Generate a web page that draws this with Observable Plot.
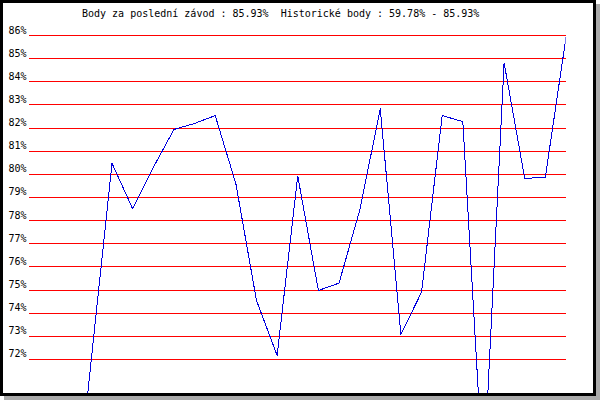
<!DOCTYPE html>
<html>
<head>
<meta charset="utf-8">
<script src="https://cdn.jsdelivr.net/npm/d3@7"></script>
<script src="https://cdn.jsdelivr.net/npm/@observablehq/plot@0.6"></script>
<style>
  html, body { margin: 0; padding: 0; background: #fff; }
  #wrap { position: relative; width: 600px; height: 400px; overflow: hidden; }
  #chart { position: absolute; left: 0; top: 0; }
  #frame { position: absolute; left: 0; top: 0; width: 596px; height: 396px; box-sizing: border-box;
           border: 3px solid #000; box-shadow: 4px 4px 0 0 #aaaaaa; pointer-events: none; }
  #title { position: absolute; left: 82px; top: 9px; font: 10px/10px "DejaVu Sans Mono", monospace;
           color: #000; white-space: pre; }
</style>
</head>
<body>
<div id="wrap">
  <div id="chart"></div>
  <div id="title"></div>
  <div id="frame"></div>
</div>
<script>
const titleText = "Body za poslední závod : 85.93%  Historické body : 59.78% - 85.93%";
const races = [1, 3, 4, 5, 6, 7, 8, 9, 10, 11, 12, 13, 14, 15, 16, 17, 18, 19, 20, 21, 22, 23, 24, 25];
const points = [63.6, 80.48, 78.51, 80.3, 81.94, 82.2, 82.54, 79.6, 74.55, 72.17, 79.93, 74.98, 75.30, 78.44, 82.83, 73.08, 74.91, 82.54, 82.28, 66.7, 84.82, 79.82, 79.88, 85.93];
const yTicks = [72, 73, 74, 75, 76, 77, 78, 79, 80, 81, 82, 83, 84, 85, 86];
const tickLabels = yTicks.map(v => v + "%");

document.getElementById("title").textContent = titleText;

const data = races.map((r, i) => ({race: r, value: points[i]}));
const ticks = yTicks.map((v, i) => ({v, label: tickLabels[i]}));

const chart = Plot.plot({
  width: 600,
  height: 400,
  marginLeft: 29,
  marginRight: 34.5,
  marginTop: 35,
  marginBottom: 4,
  style: {background: "transparent", fontFamily: "'DejaVu Sans Mono', monospace", fontSize: "10px", color: "#000"},
  x: {domain: [-1, 25], axis: null},
  y: {domain: [70.4, 86], axis: null},
  marks: [
    Plot.ruleY(ticks, {y: "v", stroke: "#ff0000", strokeWidth: 1, shapeRendering: "crispEdges"}),
    Plot.text(ticks, {y: "v", text: "label", frameAnchor: "left", textAnchor: "end", dx: -3, dy: -2,
                      lineAnchor: "bottom", fill: "#000", fontSize: 10}),
    Plot.line(data, {x: "race", y: "value", stroke: "#0000dd", strokeWidth: 1, clip: true, shapeRendering: "crispEdges"})
  ]
});
document.getElementById("chart").appendChild(chart);
</script>
</body>
</html>
